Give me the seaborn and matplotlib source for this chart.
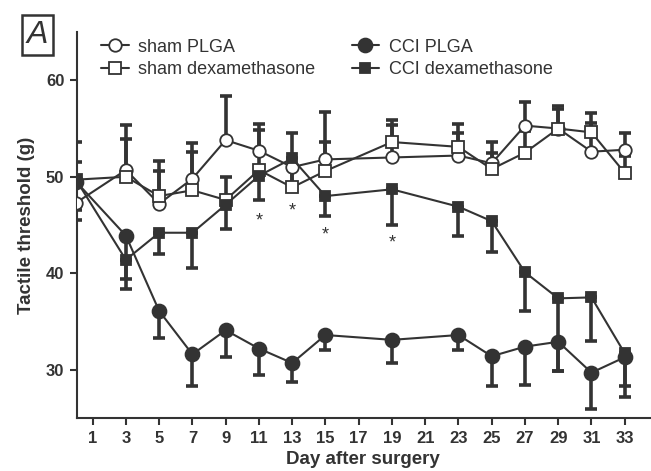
import numpy as np
import pandas as pd
import matplotlib
matplotlib.use('Agg')
import matplotlib.pyplot as plt
import seaborn as sns

sns.set_style('ticks')
plt.rcParams.update({
    'font.family': ['Liberation Sans', 'DejaVu Sans'],
    'font.weight': 'bold',
    'axes.linewidth': 1.5,
})

# data (threshold in g, sem one-sided)
days = [0, 3, 5, 7, 9, 11, 13, 15, 19, 23, 25, 27, 29, 31, 33]

sham_plga = [47.3, 50.7, 47.2, 49.8, 53.8, 52.7, 51.0, 51.8, 52.0, 52.2, 51.4, 55.3, 55.0, 52.6, 52.8]
sham_plga_err = [4.2, 4.7, 4.4, 3.7, 4.6, 2.8, 3.5, 4.9, 3.4, 2.3, 2.2, 2.4, 2.3, 3.0, 1.7]

sham_dex = [49.7, 50.0, 48.0, 48.6, 47.6, 50.7, 48.9, 50.6, 53.6, 53.1, 50.8, 52.5, 55.0, 54.6, 50.4]
sham_dex_err = [3.9, 3.9, 2.6, 4.0, 2.4, 4.1, 2.0, 3.0, 2.3, 2.4, 1.7, 2.2, 2.0, 2.0, 1.8]

cci_plga = [49.5, 43.9, 36.1, 31.6, 34.1, 32.2, 30.7, 33.6, 33.1, 33.6, 31.4, 32.4, 32.9, 29.7, 31.3]
cci_plga_err = [4.0, 5.5, 2.8, 3.3, 2.8, 2.7, 2.0, 1.5, 2.4, 1.6, 3.1, 4.0, 3.0, 3.8, 4.1]

cci_dex = [49.7, 41.4, 44.2, 44.2, 47.1, 50.1, 51.9, 48.0, 48.7, 46.9, 45.4, 40.1, 37.4, 37.5, 31.7]
cci_dex_err = [3.1, 2.0, 2.2, 3.7, 2.5, 2.5, 2.5, 2.1, 3.7, 3.0, 3.2, 4.0, 7.5, 4.5, 3.4]

star_days = [11, 13, 15, 19]
star_y = [45.4, 46.5, 44.0, 43.1]

labels = ['sham PLGA', 'sham dexamethasone', 'CCI PLGA', 'CCI dexamethasone']

dark = '#333333'

fig = plt.figure(figsize=(6.51, 4.71), dpi=100)
ax = fig.add_axes([0.118, 0.1125, 0.88, 0.8195])

series = [
    (sham_plga, sham_plga_err, 'o', 'white', 9, 'up'),
    (sham_dex, sham_dex_err, 's', 'white', 8.5, 'up'),
    (cci_plga, cci_plga_err, 'o', dark, 10, 'down'),
    (cci_dex, cci_dex_err, 's', dark, 7, 'down'),
]

zeros = np.zeros(len(days))
for vals, err, mk, fc, ms, direction in series:
    yerr = [zeros, err] if direction == 'up' else [err, zeros]
    ax.errorbar(days, vals, yerr=yerr, fmt='none', ecolor=dark,
                elinewidth=2.6, capsize=4.5, capthick=2.6, zorder=2)

handles = []
for vals, err, mk, fc, ms, direction in series:
    df = pd.DataFrame({'day': days, 'val': vals})
    sns.lineplot(data=df, x='day', y='val', ax=ax, color=dark, lw=1.5,
                 marker=mk, markersize=ms, markerfacecolor=fc,
                 markeredgecolor=dark, markeredgewidth=1.3, zorder=3,
                 legend=False)
    handles.append(ax.lines[-1])
if ax.get_legend() is not None:
    ax.get_legend().remove()

for d, y in zip(star_days, star_y):
    ax.text(d, y, '*', ha='center', va='center', fontsize=13,
            fontweight='normal', color=dark)

ax.set_xlim(0.05, 34.5)
ax.set_ylim(25, 65)
ax.set_xticks(range(1, 34, 2))
ax.set_yticks([30, 40, 50, 60])
ax.tick_params(axis='both', colors=dark, labelsize=12, width=1.5, length=5, pad=4)
for lab in ax.get_xticklabels() + ax.get_yticklabels():
    lab.set_fontweight('bold')
sns.despine(ax=ax)
for s in ['left', 'bottom']:
    ax.spines[s].set_color(dark)

ax.set_xlabel('Day after surgery', fontsize=13.5, fontweight='bold', color=dark, labelpad=4)
ax.set_ylabel('Tactile threshold (g)', fontsize=13.5, fontweight='bold', color=dark, labelpad=8)

leg = fig.legend(handles=handles, labels=labels, loc='upper left', ncol=2,
                 bbox_to_anchor=(0.142, 0.937), frameon=False,
                 fontsize=13, handlelength=1.5, handletextpad=0.55,
                 columnspacing=2.0, labelspacing=0.3, borderpad=0)
for t in leg.get_texts():
    t.set_fontweight('normal')
    t.set_color(dark)

fig.text(0.0576, 0.926, 'A', fontsize=23, style='italic', fontweight='normal',
         ha='center', va='center', color=dark,
         bbox=dict(boxstyle='square,pad=0.15', fc='white', ec=dark, lw=1.8))

fig.savefig('out.png', dpi=100)
